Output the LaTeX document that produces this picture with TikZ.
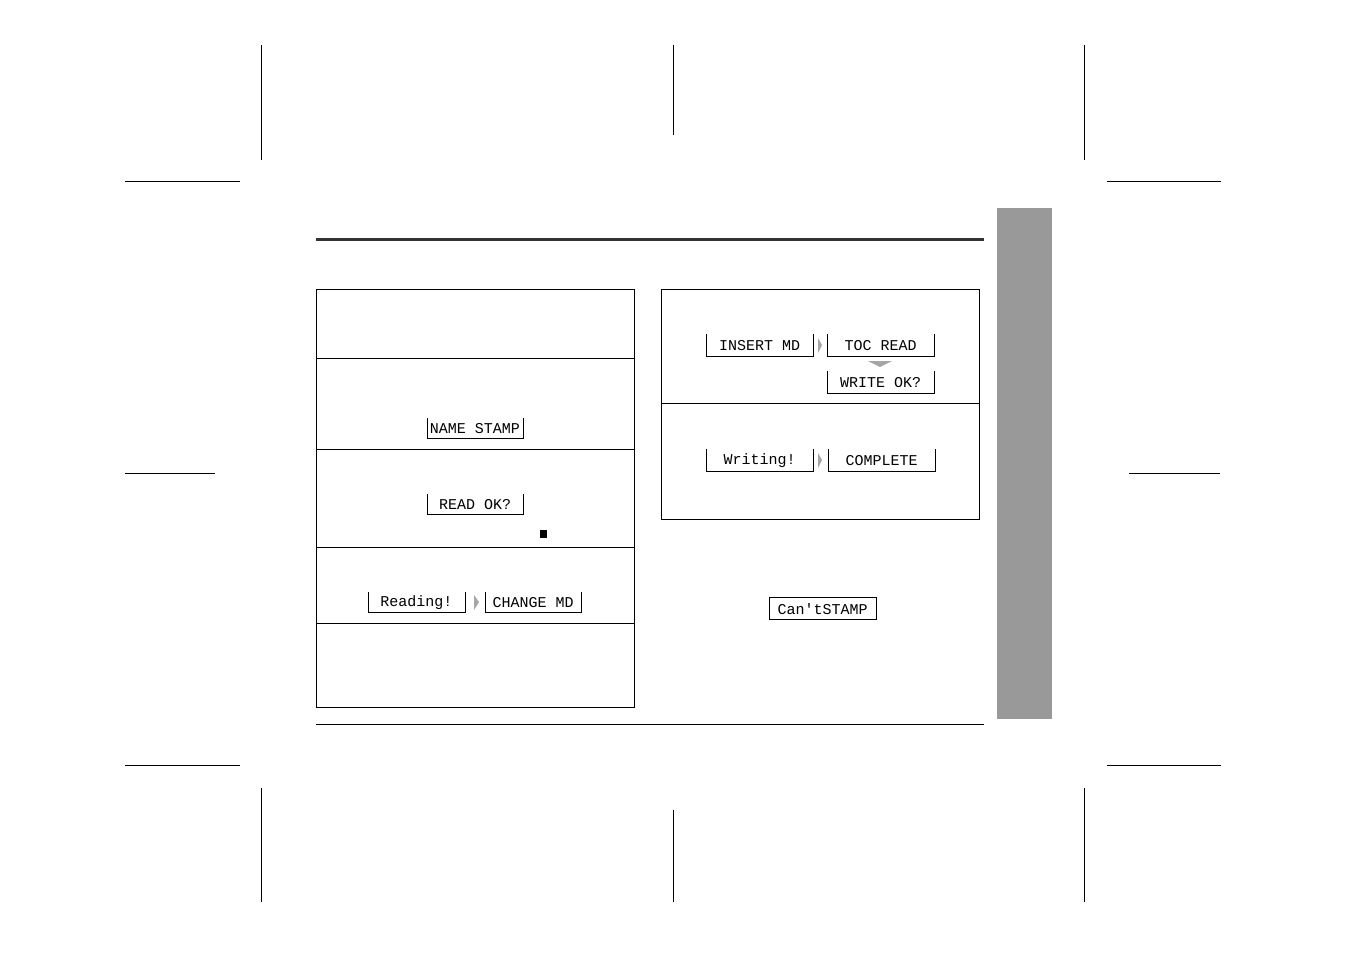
\documentclass[tikz,border=0pt]{standalone}
\usepackage{fontspec}
\setmonofont{Liberation Mono}
\begin{document}
\begin{tikzpicture}[x=1pt,y=-1pt,
  thin/.style={line width=1pt},
  disptext/.style={font=\ttfamily\fontsize{15}{15}\selectfont,inner sep=0pt},
  tri/.style={fill=black!35,draw=none}]
\useasboundingbox (0,0) rectangle (1351,954);
\newcommand{\disp}[6]{\draw[thin] (#2,#4)--(#2,#5)--(#3,#5)--(#3,#4);
  \node[disptext] (#1) at ({(#2+#3)/2},{(#4+#5)/2+1}) {#6};}
% crop marks
\foreach \x/\a/\b in {261/45/160,673/45/135,1084/45/160,261/788/902,673/810/902,1084/788/902}
  \draw[thin] (\x,\a)--(\x,\b);
\foreach \y/\a/\b in {181/125/240,181/1107/1221,473/125/215,473/1129/1220,765/125/240,765/1107/1221}
  \draw[thin] (\a,\y)--(\b,\y);
% rules
\draw[line width=3pt,black!80] (316,239)--(984,239);
\draw[thin] (316,724)--(984,724);
\fill[black!40] (997,208) rectangle (1052,719);
% left panel
\draw[thin] (316,289) rectangle (634,707);
\foreach \y in {358,449,547,623} \draw[thin] (316,\y)--(634,\y);
% right panel
\draw[thin] (661,289) rectangle (979,519);
\draw[thin] (661,403)--(979,403);
% displays
\disp{ns}{427}{523}{418}{438}{NAME STAMP}
\disp{ro}{427}{523}{494}{514}{READ OK?}
\fill (540,530) rectangle (547,538);
\disp{rd}{368}{465}{592}{612}{Reading!}
\disp{cm}{485}{581}{592}{612}{CHANGE MD}
\fill[black!35] (474,595)--(479,602)--(474,610)--cycle;
\disp{im}{706}{813}{334}{356}{INSERT MD}
\disp{tr}{827}{934}{334}{356}{TOC READ}
\disp{wo}{827}{934}{371}{393}{WRITE OK?}
\fill[black!35] (818,338)--(822,345)--(818,353)--cycle;
\fill[black!35] (868,361)--(892,361)--(880,367)--cycle;
\disp{wr}{706}{813}{449}{471}{Writing!}
\disp{co}{828}{935}{449}{471}{COMPLETE}
\fill[black!35] (818,453)--(822,460)--(818,468)--cycle;
\draw[thin] (769,597) rectangle (876,619);
\node[disptext] (cs) at (822.5,609) {Can'tSTAMP};
\end{tikzpicture}
\end{document}
